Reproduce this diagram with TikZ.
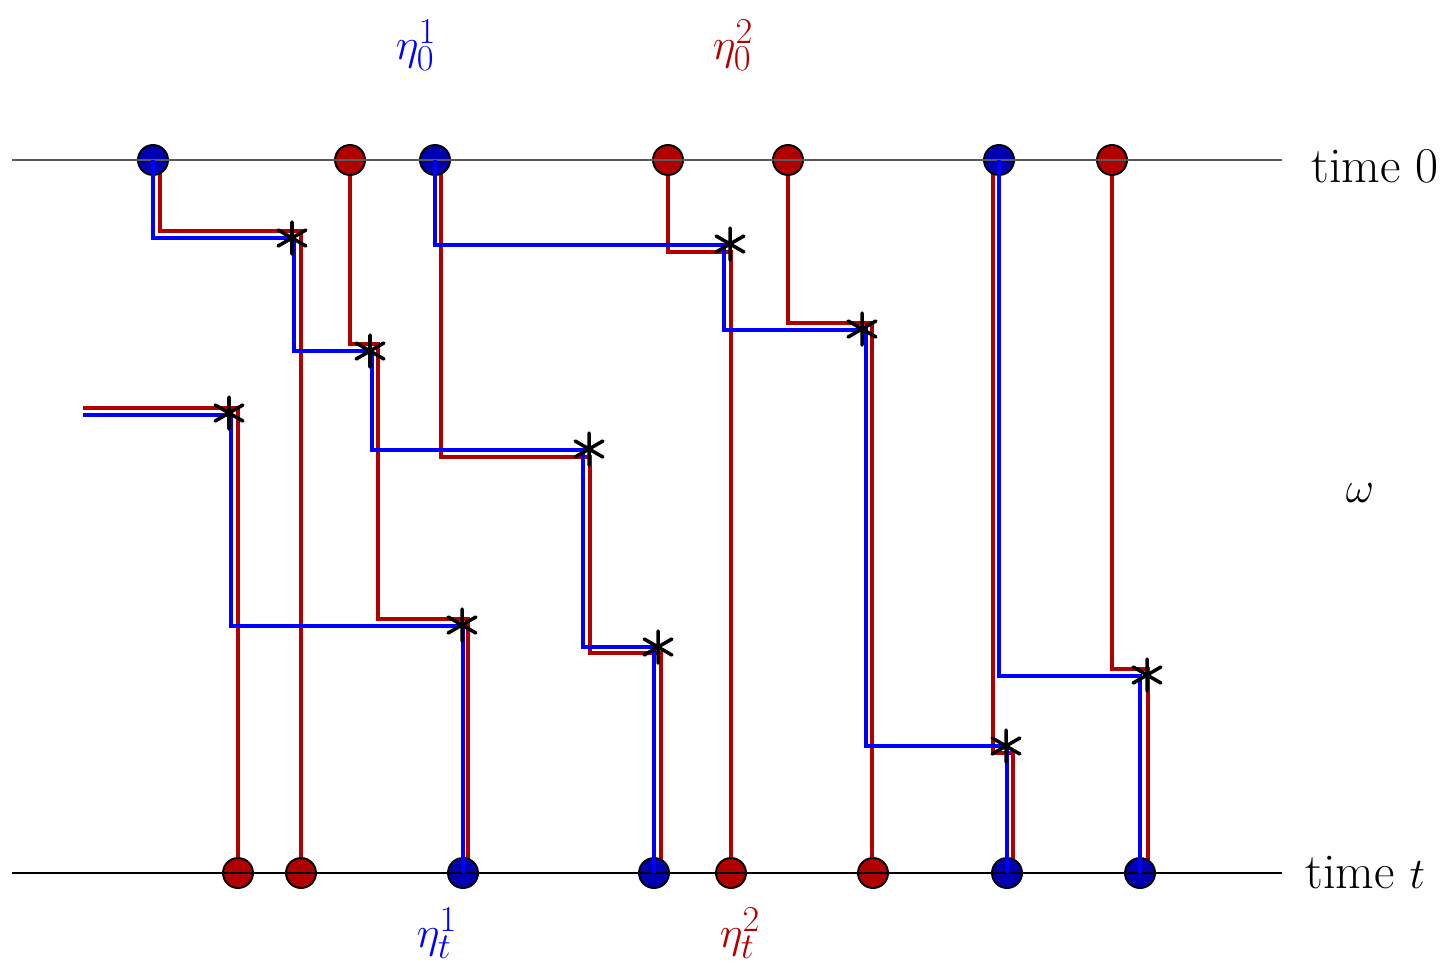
\documentclass[tikz,border=0pt]{standalone}
\usepackage{xcolor}
\usepackage{tikz}
\definecolor{PathRed}{RGB}{176,0,0}
\definecolor{DotBlue}{RGB}{0,0,176}
\definecolor{PathBlue}{RGB}{0,0,255}

\begin{document}
\begin{tikzpicture}[x=0.02cm, y=-0.02cm,
    every node/.style={font=\fontsize{28.5}{34}\selectfont},
    redpath/.style={PathRed, line width=2.2pt},
    bluepath/.style={PathBlue, line width=2.2pt},
    site/.style={circle, draw=black, line width=1.1pt, minimum size=0.6cm, inner sep=0pt},
    redsite/.style={site, fill=PathRed},
    bluesite/.style={site, fill=DotBlue},
    level/.style={black, line width=0.7pt},
    jumpmark/.pic={\draw[black, line width=2pt, line cap=round] (90:16) -- (270:16) (30:16) -- (210:16) (150:16) -- (330:16);}]
    \useasboundingbox (0,0) rectangle (1456,964);

    % red trajectories (under the sites)
    \draw[redpath] (160,160) |- (301,231) -- (301,873);
    \draw[redpath] (350,160) |- (378,344) |- (468,619) -- (468,873);
    \draw[redpath] (83,408) -| (238,873);
    \draw[redpath] (441,160) |- (590,457) |- (661,653) -- (661,873);
    \draw[redpath] (668,160) |- (731,252) -- (731,873);
    \draw[redpath] (788,160) |- (872,323) -- (872,873);
    \draw[redpath] (993,160) |- (1013,753) -- (1013,873);
    \draw[redpath] (1112,160) |- (1148,669) -- (1148,873);

    % sites at time 0
    \node[bluesite] (t1) at (153,160) {};
    \node[redsite] (t2) at (350,160) {};
    \node[bluesite] (t3) at (435,160) {};
    \node[redsite] (t4) at (668,160) {};
    \node[redsite] (t5) at (788,160) {};
    \node[bluesite] (t6) at (999,160) {};
    \node[redsite] (t7) at (1112,160) {};

    % sites at time t
    \node[redsite] (b1) at (238,873) {};
    \node[redsite] (b2) at (301,873) {};
    \node[bluesite] (b3) at (463,873) {};
    \node[bluesite] (b4) at (654,873) {};
    \node[redsite] (b5) at (731,873) {};
    \node[redsite] (b6) at (873,873) {};
    \node[bluesite] (b7) at (1007,873) {};
    \node[bluesite] (b8) at (1140,873) {};

    \draw[level, black!65] (12,160) -- (1282,160);
    \draw[level] (12,873) -- (1282,873);

    % blue trajectories
    \draw[bluepath] (t1.center) |- (294,238) |- (372,351) |- (583,450) |- (654,647) -- (b4.center);
    \draw[bluepath] (83,415) -| (231,626) -| (b3.center);
    \draw[bluepath] (t3.center) |- (724,245) |- (866,330) |- (1007,746) -- (b7.center);
    \draw[bluepath] (t6.center) |- (1140,676) -- (b8.center);

    % jumps
    \pic at (292,238) {jumpmark};
    \pic at (370,351) {jumpmark};
    \pic at (229,413) {jumpmark};
    \pic at (589,449) {jumpmark};
    \pic at (462,625) {jumpmark};
    \pic at (658,647) {jumpmark};
    \pic at (730,244) {jumpmark};
    \pic at (862,329) {jumpmark};
    \pic at (1006,746) {jumpmark};
    \pic at (1147,675) {jumpmark};

    % labels
    \node[text=PathBlue] (eta01) at (416,45) {$\eta_0^1$};
    \node[text=PathRed] (eta02) at (733,45) {$\eta_0^2$};
    \node[text=PathBlue] (etat1) at (437,933) {$\eta_t^1$};
    \node[text=PathRed] (etat2) at (740,933) {$\eta_t^2$};
    \node[anchor=base west, inner sep=0pt] (time0) at (1311,182) {time 0};
    \node[anchor=base west, inner sep=0pt] (timet) at (1305,888) {time $t$};
    \node (omega) at (1360,493) {$\omega$};
\end{tikzpicture}
\end{document}
